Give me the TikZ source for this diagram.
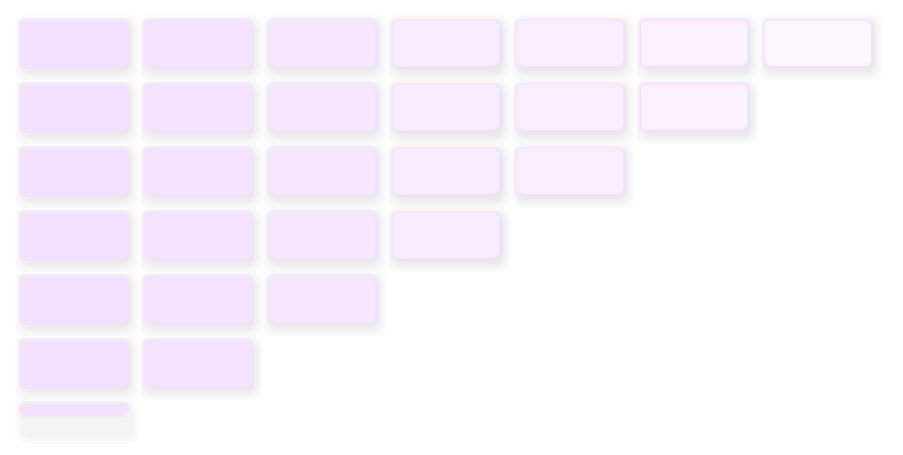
\documentclass[tikz,border=0pt]{standalone}
\usetikzlibrary{calc,backgrounds,positioning}
\definecolor{boxpink}{HTML}{F3DFFF}
\definecolor{glowpink}{HTML}{F0D6FC}
\begin{document}
\begin{tikzpicture}[x=1pt,y=-1pt,
    cell/.style={draw=glowpink!70!white, line width=0.8pt, rounded corners=6pt,
      minimum width=107pt, minimum height=46pt, anchor=north west, inner sep=0pt},
    haze/.style={fill=black, opacity=0.016, rounded corners=9pt},
    glow/.style={fill=glowpink, opacity=0.3, rounded corners=7pt}]

    \useasboundingbox (0,0) rectangle (903,455);

    % staircase of cells, fading to the right
    \foreach \r in {1,...,6}{
      \pgfmathtruncatemacro\n{8-\r}
      \foreach \c in {1,...,\n}{
        \pgfmathtruncatemacro\p{100-12*(\c-1)}
        \node [cell, fill=boxpink!\p!white] (b-\r-\c) at ({20+124*(\c-1)},{20+64*(\r-1)}) {};
        \begin{pgfonlayer}{background}
          \foreach \s in {0,2,4,6,8}
            \fill [haze] ($(b-\r-\c.north west)+(3-\s,3-\s)$) rectangle ($(b-\r-\c.south east)+(3+\s,5+\s)$);
          \fill [glow] ($(b-\r-\c.north west)+(-2,-2)$) rectangle ($(b-\r-\c.south east)+(2,2)$);
        \end{pgfonlayer}
      }
    }

    % last row, cut off
    \node [cell, fill=boxpink, minimum height=12pt] (b-7-1) at (20,403) {};
    \begin{pgfonlayer}{background}
      \foreach \s in {2,5,8}
        \fill [haze] ($(b-7-1.north west)+(3-\s,3-\s)$) rectangle ($(b-7-1.south east)+(3+\s,20+\s)$);
      \fill [glow] ($(b-7-1.north west)+(-2,-2)$) rectangle ($(b-7-1.south east)+(2,2)$);
    \end{pgfonlayer}

\end{tikzpicture}
\end{document}
